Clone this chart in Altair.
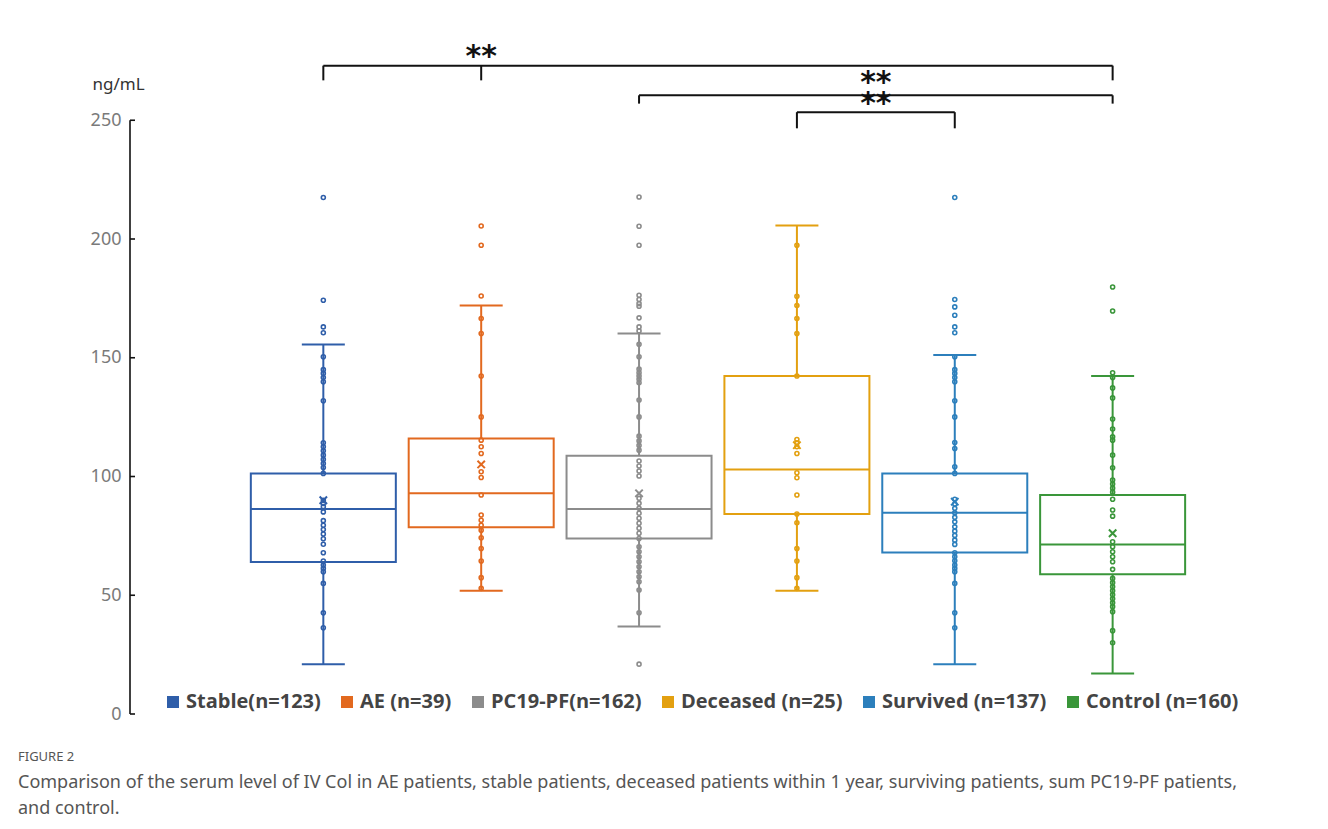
import altair as alt
import pandas as pd

# ---------------- data ----------------
groups = ["Stable", "AE", "PC19-PF", "Deceased", "Survived", "Control"]
labels = ["Stable(n=123)", "AE (n=39)", "PC19-PF(n=162)", "Deceased (n=25)",
          "Survived (n=137)", "Control (n=160)"]
colors = ["#2F5EA9", "#E2691F", "#8C8C8C", "#E3A010", "#2C7FBC", "#3A963A"]

whisker_low = [20.9, 51.9, 36.8, 51.9, 20.9, 17.1]
q1 = [64.0, 78.6, 73.9, 84.2, 68.0, 58.8]
median = [86.3, 92.9, 86.3, 103.0, 84.7, 71.4]
q3 = [101.3, 116.0, 108.7, 142.3, 101.3, 92.2]
whisker_high = [155.6, 172.0, 160.2, 205.7, 151.2, 142.3]
mean = [90.0, 105.1, 92.9, 113.2, 89.4, 76.1]

pts_stable = [217.5, 174.2, 163.0, 160.5, 150.4, 145.0, 143.4, 141.7, 139.9, 131.9,
              114.2, 112.5, 110.8, 109.0, 107.2, 105.5, 103.8, 101.3, 90.0, 88.7,
              87.3, 85.1, 81.4, 79.5, 77.7, 75.8, 73.8, 71.5, 67.9, 64.4, 62.7,
              61.3, 59.9, 55.0, 42.6, 36.3]
pts_ae = [205.5, 197.4, 176.0, 166.5, 160.2, 142.3, 125.1, 115.3, 112.5, 109.7,
          102.0, 99.6, 92.2, 83.8, 81.6, 79.5, 77.4, 74.2, 69.7, 64.4, 57.4, 52.9]
pts_pc19 = [217.7, 205.4, 197.4, 176.3, 174.5, 172.8, 171.7, 166.8, 163.0, 161.3,
            155.7, 150.4, 145.2, 143.7, 142.3, 140.9, 139.5, 132.2, 125.1, 117.0,
            115.0, 113.1, 111.1, 106.5, 104.4, 102.3, 100.2, 90.8, 88.7, 86.6,
            84.5, 82.4, 80.3, 78.2, 76.1, 73.9, 70.4, 68.3, 66.2, 64.1, 62.0,
            59.9, 57.8, 55.7, 52.2, 42.6, 21.0]
pts_deceased = [197.4, 175.9, 172.0, 166.5, 160.2, 142.3, 115.6, 114.2, 112.5, 109.7,
                101.6, 99.5, 92.2, 84.2, 80.5, 69.7, 64.4, 57.4, 52.9]
pts_survived = [217.5, 174.5, 171.4, 167.9, 163.0, 160.5, 150.4, 145.0, 143.4, 141.7,
                139.9, 131.9, 125.1, 114.3, 111.8, 104.1, 101.3, 90.4, 88.4, 86.6,
                84.7, 82.8, 80.9, 78.8, 77.0, 75.2, 73.2, 71.4, 67.9, 66.2, 64.5,
                62.7, 61.3, 59.9, 55.0, 42.6, 36.3]
pts_control = [179.8, 169.7, 143.7, 141.7, 137.3, 133.1, 124.2, 120.0, 116.7, 115.3,
               109.0, 103.7, 98.5, 96.8, 95.1, 93.4, 90.4, 85.9, 83.3, 72.5, 70.4,
               68.3, 66.2, 64.1, 60.9, 57.1, 55.3, 53.6, 51.9, 50.2, 48.5, 46.8,
               45.2, 43.1, 35.1, 30.0]
all_points = [pts_stable, pts_ae, pts_pc19, pts_deceased, pts_survived, pts_control]

# significance brackets
bracket_from = ["Stable", "PC19-PF", "Deceased"]
bracket_to = ["Control", "Control", "Survived"]
bracket_level = [273.0, 260.5, 253.4]
bracket_drop = [266.8, 257.0, 246.6]
bracket_extra_tick = ["AE", None, None]
star_at = [1.0, 3.5, 3.5]
star_y = [277.5, 266.5, 257.5]
star_text = ["**", "**", "**"]

y_ticks = [0, 50, 100, 150, 200, 250]

caption_title = "FIGURE 2"
caption_lines = [
    "Comparison of the serum level of IV Col in AE patients, stable patients, deceased patients within 1 year, surviving patients, sum PC19-PF patients,",
    "and control.",
]

# ---------------- tables ----------------
pos = {g: i for i, g in enumerate(groups)}
box_df = pd.DataFrame({
    "group": groups, "lab": labels, "pos": list(range(len(groups))),
    "low": whisker_low, "q1": q1, "med": median, "q3": q3,
    "high": whisker_high, "mean": mean,
})
pts_rows = []
for g, lab, vals in zip(groups, labels, all_points):
    for v in vals:
        pts_rows.append({"group": g, "label": lab, "pos": pos[g], "value": v})
pts_df = pd.DataFrame(pts_rows)

br_df = pd.DataFrame({
    "x1": [pos[a] for a in bracket_from], "x2": [pos[b] for b in bracket_to],
    "level": bracket_level,
})
tick_rows = []
for a, b, lv, dr, ex in zip(bracket_from, bracket_to, bracket_level, bracket_drop, bracket_extra_tick):
    for g in [a, b] + ([ex] if ex else []):
        tick_rows.append({"x": pos[g], "top": lv, "bottom": dr})
tick_df = pd.DataFrame(tick_rows)
star_df = pd.DataFrame({"x": star_at, "y": star_y, "t": star_text})
axis_df = pd.DataFrame({"v": y_ticks})
axis_line_df = pd.DataFrame({"a": [y_ticks[0]], "b": [y_ticks[-1]]})

# ---------------- scales ----------------
W, H = 1180, 665
xscale = alt.Scale(domain=[-1.193, (W - 190) / 159.2], nice=False, zero=False)
yscale = alt.Scale(domain=[0, 280], nice=False)
cscale = alt.Scale(domain=labels, range=colors)

X = alt.X("pos:Q", scale=xscale, axis=None)
C = alt.Color("lab:N", scale=cscale, legend=None)

yaxis = alt.Axis(values=y_ticks, domain=False, ticks=False, grid=False,
                 labelPadding=9, labelFontSize=18, labelColor="#7a7a7a",
                 labelFont="Noto Sans", title="ng/mL", titleAngle=0,
                 titleAlign="left", titleBaseline="middle", titleX=-38, titleY=35,
                 titleFont="Noto Sans", titleFontSize=17, titleFontWeight="normal",
                 titleColor="#333333")

legend = alt.Legend(
    title=None, orient="none", direction="horizontal",
    legendX=33, legendY=643, columns=6,
    symbolType="square", symbolSize=100, symbolStrokeWidth=2,
    symbolFillColor="white",
    labelFont="Open Sans", labelFontSize=20, labelFontWeight="bold",
    labelColor="#444444", columnPadding=16, labelOffset=3, labelLimit=300,
)

points = alt.Chart(pts_df).mark_point(shape="circle", filled=False, size=16,
                                       strokeWidth=1.6, opacity=1).encode(
    x=X, y=alt.Y("value:Q", scale=yscale, axis=yaxis),
    stroke=alt.Stroke("label:N", scale=cscale, sort=labels, legend=legend),
)
boxes = alt.Chart(box_df).mark_bar(filled=False, strokeWidth=2, size=145,
                                   opacity=1).encode(
    x=X, y=alt.Y("q1:Q", scale=yscale), y2="q3:Q", color=C)
medians = alt.Chart(box_df).mark_tick(orient="horizontal", size=145, thickness=2,
                                       opacity=1).encode(
    x=X, y=alt.Y("med:Q", scale=yscale), color=C)
wh_up = alt.Chart(box_df).mark_rule(strokeWidth=2).encode(
    x=X, y=alt.Y("q3:Q", scale=yscale), y2="high:Q", color=C)
wh_down = alt.Chart(box_df).mark_rule(strokeWidth=2).encode(
    x=X, y=alt.Y("low:Q", scale=yscale), y2="q1:Q", color=C)
cap_hi = alt.Chart(box_df).mark_tick(orient="horizontal", size=43, thickness=2,
                                      opacity=1).encode(
    x=X, y=alt.Y("high:Q", scale=yscale), color=C)
cap_lo = alt.Chart(box_df).mark_tick(orient="horizontal", size=43, thickness=2,
                                      opacity=1).encode(
    x=X, y=alt.Y("low:Q", scale=yscale), color=C)
means = alt.Chart(box_df).mark_point(shape="M-1,-1L1,1M-1,1L1,-1", filled=False,
                                      size=55, strokeWidth=2, opacity=1).encode(
    x=X, y=alt.Y("mean:Q", scale=yscale), color=C)

# axis line and inward ticks
axis_line = alt.Chart(axis_line_df).mark_rule(color="#111111", strokeWidth=1.6).encode(
    x=alt.value(0), y=alt.Y("a:Q", scale=yscale), y2="b:Q")
axis_ticks = alt.Chart(axis_df).mark_rule(color="#111111", strokeWidth=1.6).encode(
    x=alt.value(0), x2=alt.value(5), y=alt.Y("v:Q", scale=yscale))

# brackets
br_h = alt.Chart(br_df).mark_rule(color="#111111", strokeWidth=2).encode(
    x=alt.X("x1:Q", scale=xscale, axis=None), x2="x2:Q", y=alt.Y("level:Q", scale=yscale))
br_v = alt.Chart(tick_df).mark_rule(color="#111111", strokeWidth=2).encode(
    x=alt.X("x:Q", scale=xscale, axis=None), y=alt.Y("top:Q", scale=yscale), y2="bottom:Q")
stars = alt.Chart(star_df).mark_text(font="DejaVu Sans", fontSize=30, fontWeight="bold",
                                     color="#111111", baseline="middle", dy=2).encode(
    x=alt.X("x:Q", scale=xscale, axis=None), y=alt.Y("y:Q", scale=yscale), text="t:N")

chart = alt.layer(
    points, boxes, wh_up, wh_down, cap_hi, cap_lo, medians, means,
    axis_line, axis_ticks, br_h, br_v, stars,
).properties(
    width=W, height=H,
    padding={"left": 122, "top": 41, "right": 10, "bottom": 106},
    autosize=alt.AutoSizeParams(type="none"),
    title=alt.TitleParams(text=caption_title, subtitle=caption_lines, orient="bottom",
                          anchor="start", frame="group", dx=-112, offset=28,
                          font="Noto Sans", fontSize=13, fontWeight="normal",
                          color="#555555",
                          subtitleFont="Noto Sans", subtitleFontSize=18,
                          subtitleColor="#555555", subtitleLineHeight=26,
                          subtitlePadding=10),
).configure_view(stroke=None)

chart.save("out.html", embed_options={"renderer": "svg", "actions": False})
